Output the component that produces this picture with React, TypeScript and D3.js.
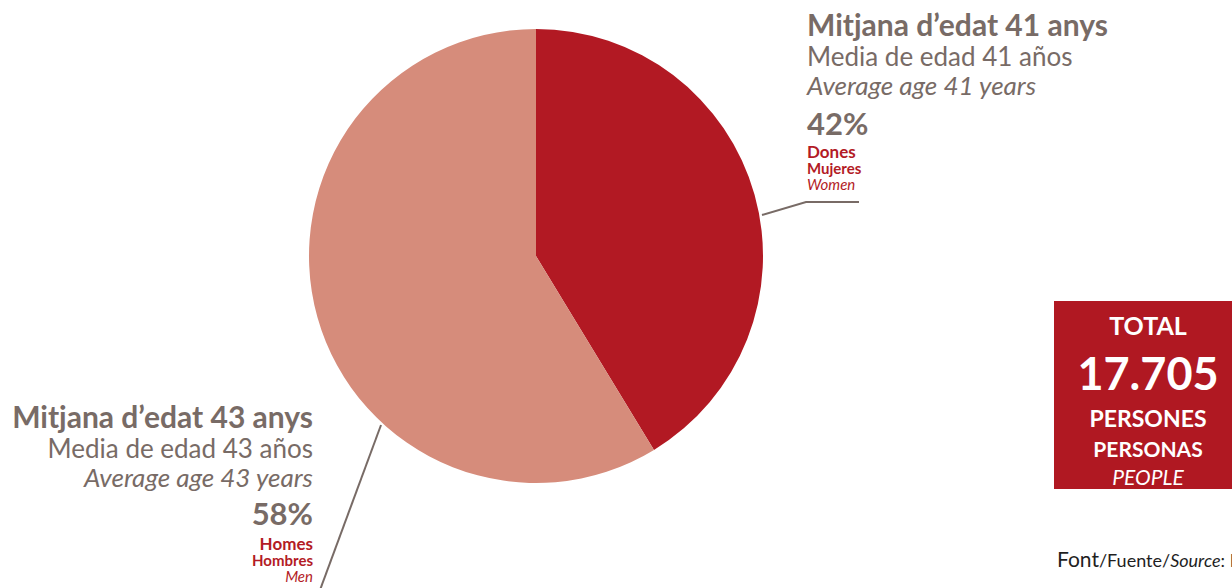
import React from "react";
import * as d3 from "d3";

const categories = ["Dones", "Homes"];
const shares = [41.3, 58.7];
const percentLabels = ["42%", "58%"];
const ageLabelsCa = ["Mitjana d\u2019edat 41 anys", "Mitjana d\u2019edat 43 anys"];
const ageLabelsEs = ["Media de edad 41 años", "Media de edad 43 años"];
const ageLabelsEn = ["Average age 41 years", "Average age 43 years"];
const sexLabelsEs = ["Mujeres", "Hombres"];
const sexLabelsEn = ["Women", "Men"];
const colors = ["#b21923", "#d68c7b"];
const totalLabel = "17.705";

const W = 1232;
const H = 588;
const GRAY = "#786b66";
const RED = "#b31b25";
const FONT = "Lato, 'Open Sans', sans-serif";

export default function App() {
  const cx = 536;
  const cy = 256;
  const r = 227;
  const pie = d3.pie<number>().sort(null).value((d) => d);
  const arcs = pie(shares);
  const arc = d3.arc<d3.PieArcDatum<number>>().innerRadius(0).outerRadius(r);

  const blocks = [
    { x: 807, anchor: "start", y0: 36 },
    { x: 313, anchor: "end", y0: 428 },
  ];

  return (
    <svg
      width={W}
      height={H}
      style={{ position: "absolute", left: 0, top: 0, background: "#fff" }}
      fontFamily={FONT}
    >
      <g transform={`translate(${cx},${cy})`}>
        {arcs.map((a, i) => (
          <path key={categories[i]} d={arc(a) || ""} fill={colors[i]} />
        ))}
      </g>
      {/* leader lines */}
      <polyline points="762,215 806,202 859,202" fill="none" stroke={GRAY} strokeWidth={2} />
      <line x1={381} y1={425} x2={320} y2={590} stroke={GRAY} strokeWidth={2} />

      {blocks.map((b, i) => (
        <g key={i} textAnchor={b.anchor as any}>
          <text x={b.x} y={b.y0} fontSize={30} fontWeight={700} fill={GRAY}>
            {ageLabelsCa[i]}
          </text>
          <text x={b.x} y={b.y0 + 30} fontSize={26} fill={GRAY}>
            {ageLabelsEs[i]}
          </text>
          <text x={b.x} y={b.y0 + 59} fontSize={26} fontStyle="italic" fill={GRAY}>
            {ageLabelsEn[i]}
          </text>
          <text x={b.x} y={b.y0 + (i === 0 ? 99 : 97)} fontSize={31} fontWeight={700} fill={GRAY}>
            {percentLabels[i]}
          </text>
          <text x={b.x} y={b.y0 + 122} fontSize={17} fontWeight={700} fill={RED}>
            {categories[i]}
          </text>
          <text x={b.x} y={b.y0 + 138} fontSize={15} fontWeight={700} fill={RED}>
            {sexLabelsEs[i]}
          </text>
          <text x={b.x} y={b.y0 + 154} fontSize={15} fontStyle="italic" fill={RED}>
            {sexLabelsEn[i]}
          </text>
        </g>
      ))}

      {/* total box */}
      <rect x={1054} y={301} width={188} height={188} fill="#b01822" />
      <g textAnchor="middle" fill="#fff">
        <text x={1148} y={335} fontSize={25} fontWeight={700}>TOTAL</text>
        <text x={1148} y={390} fontSize={45} fontWeight={700}>{totalLabel}</text>
        <text x={1148} y={427} fontSize={23} fontWeight={700}>PERSONES</text>
        <text x={1148} y={457} fontSize={21} fontWeight={700}>PERSONAS</text>
        <text x={1148} y={485} fontSize={21} fontStyle="italic">PEOPLE</text>
      </g>

      <text x={1057} y={567} fill="#1f1f1f" fontSize={18}>
        <tspan fontSize={21}>Font</tspan>
        <tspan>/Fuente/</tspan>
        <tspan fontStyle="italic">Source</tspan>
        <tspan>: IDESCAT</tspan>
      </text>
    </svg>
  );
}
